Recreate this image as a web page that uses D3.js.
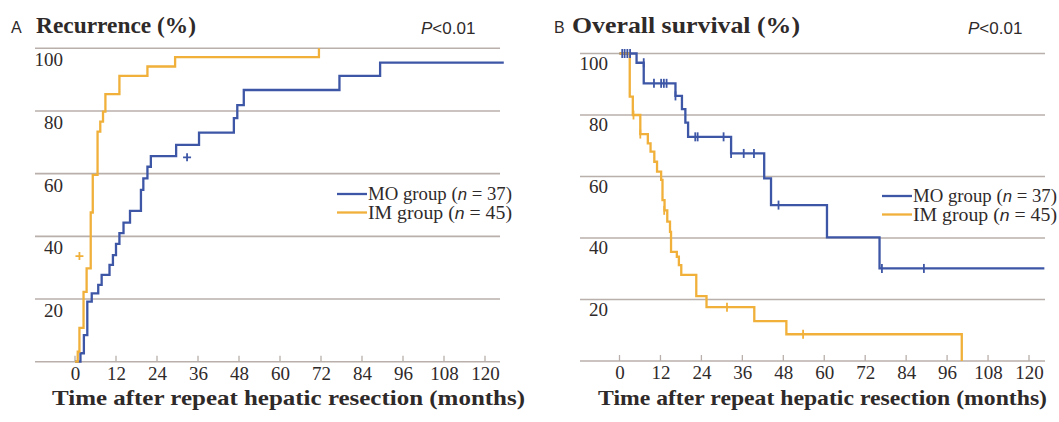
<!DOCTYPE html>
<html>
  <head>
    <meta charset="utf-8">
    <title>Recurrence and overall survival</title>
    <script src="https://cdnjs.cloudflare.com/ajax/libs/d3/7.8.5/d3.min.js"></script>
    <style>
      body { margin: 0; background: #fff; }
      text { fill: #2f2a2a; }
      .serif { font-family: "Liberation Serif", "Times New Roman", serif; }
      .sans { font-family: "Liberation Sans", Arial, sans-serif; }
    </style>
  </head>
  <body>

    <svg id="chart" width="1059" height="422"></svg>

    <script>

      // x axis ticks (months) and y labels (%)
      var monthTicks = [0, 12, 24, 36, 48, 60, 72, 84, 96, 108, 120];
      var pctTicks = [20, 40, 60, 80, 100];

      // Panel A: cumulative recurrence, steps as [month, %]
      var recMO = [[0,0],[1.6,2.7],[2.6,8.5],[3.6,19.2],[4.9,21.8],[6.8,24.5],[7.8,27.7],[10.1,30.9],
        [11.1,34],[12,37.6],[13,41],[14.2,44.4],[16.1,48.1],[19.3,54.8],[20,58.5],[21.2,62.2],
        [22.2,65.6],[29.6,69.2],[36.3,73.1],[46.5,77.7],[47.5,81.9],[49.4,86.7],[77.4,91.2],
        [89.3,95.4],[125.5,95.4]];
      var recIM = [[0,0],[0.8,3.2],[1.3,10.8],[2.5,22.3],[3.4,29.8],[4.6,47.6],[5.2,59.6],[6.6,73.4],
        [7.4,76.6],[8.2,79.8],[8.9,85.4],[13,91.2],[21.2,94.2],[29.3,97.2],[71.4,100]];
      var recMOCensor = [[32.8,65.2]];
      var recIMCensor = [[1.3,33.7]];

      // Panel B: overall survival, steps as [month, %]
      var osMO = [[0,100],[5,97],[7.1,90.3],[16.4,86.2],[18.3,81.9],[19.3,77.5],[20.1,72.9],[32.7,67.5],
        [42.4,59.4],[44.4,50.7],[60.8,40.2],[76.2,30.1],[124.5,30.1]];
      var osIM = [[0,100],[3,86],[3.9,80],[6.1,73.8],[8.3,70.8],[9.1,68.1],[10.2,64.8],[11,61.6],
        [12.2,58.9],[12.6,52.3],[13.2,49],[14,45.3],[14.8,42],[15.1,35.5],[16.8,33.9],[17.4,31.2],
        [18.1,28],[22.5,21.1],[25.5,17.5],[39.5,13],[48.9,8.7],[100.3,0]];
      var osMOCensor = [[0.8,100],[1.5,100],[2.3,100],[3.1,100],[7.1,97],[10.1,90.3],[12.2,90.3],
        [13,90.3],[13.8,90.3],[16.4,86.2],[22.2,72.9],[22.9,72.9],[30.5,72.9],[32.7,67.5],
        [36.4,67.5],[39.4,67.5],[46.6,50.7],[76.9,30.1],[89.2,30.1]];
      var osIMCensor = [[4.1,80],[6.1,73.8],[13.1,49],[31.5,17.5],[53.8,8.7]];

      var legendLabels = [["MO group (", "n", " = 37)"], ["IM group (", "n", " = 45)"]];

      var blue = "#3d56a6", orange = "#f0b03a", grid = "#b9afab";
      var svg = d3.select("#chart");

      function panel(cfg) {
        var x = d3.scaleLinear().domain([0, 120]).range([cfg.x0, cfg.x1]);
        var y = d3.scaleLinear().domain([0, 100]).range([cfg.yb, cfg.yt]);
        var g = svg.append("g");

        // gridlines with labels sitting just below them
        g.selectAll("line.grid").data(pctTicks).enter().append("line")
          .attr("x1", cfg.gl).attr("x2", cfg.gr)
          .attr("y1", function(d){ return y(d); }).attr("y2", function(d){ return y(d); })
          .attr("stroke", grid).attr("stroke-width", 1.6);
        g.selectAll("text.ylab").data(pctTicks).enter().append("text")
          .attr("class", "serif")
          .attr("x", cfg.lx).attr("y", function(d){ return y(d) + cfg.ldy; })
          .attr("text-anchor", "end").attr("font-size", 19)
          .text(function(d){ return d; });

        // x axis
        var ax = g.append("g").attr("transform", "translate(0," + cfg.yb + ")")
          .call(d3.axisBottom(x).tickValues(monthTicks).tickSize(0).tickPadding(5));
        ax.attr("font-family", null).attr("font-size", null);
        ax.select(".domain").remove();
        ax.selectAll("text").attr("class", "serif").attr("font-size", 19).attr("fill", "#2f2a2a");
        g.append("line").attr("x1", cfg.gl).attr("x2", cfg.gr)
          .attr("y1", cfg.yb).attr("y2", cfg.yb).attr("stroke", grid).attr("stroke-width", 1.6);
        g.selectAll("line.tick").data(monthTicks).enter().append("line")
          .attr("x1", function(d){ return x(d); }).attr("x2", function(d){ return x(d); })
          .attr("y1", cfg.yb).attr("y2", cfg.yb - 6).attr("stroke", grid).attr("stroke-width", 1.3);

        var line = d3.line().curve(d3.curveStepAfter)
          .x(function(d){ return x(d[0]); }).y(function(d){ return y(d[1]); });
        [[cfg.mo, blue], [cfg.im, orange]].forEach(function(s) {
          g.append("path").attr("d", line(s[0])).attr("fill", "none")
            .attr("stroke", s[1]).attr("stroke-width", 2.3);
        });

        // censor marks
        [[cfg.moC, blue], [cfg.imC, orange]].forEach(function(s) {
          g.selectAll(null).data(s[0]).enter().append("path")
            .attr("d", function(d) {
              var px = x(d[0]), py = y(d[1]);
              return cfg.plus
                ? "M" + (px - 4) + "," + py + "H" + (px + 4) + "M" + px + "," + (py - 4) + "V" + (py + 4)
                : "M" + px + "," + (py - 4.5) + "V" + (py + 4.5);
            })
            .attr("stroke", s[1]).attr("stroke-width", 1.8);
        });

        // titles
        g.append("text").attr("class", "sans").attr("x", cfg.lettx).attr("y", 33)
          .attr("font-size", 16).text(cfg.letter);
        g.append("text").attr("class", "serif").attr("x", cfg.tx).attr("y", 33)
          .attr("font-size", 23).attr("font-weight", "bold")
          .attr("textLength", cfg.tw).attr("lengthAdjust", "spacingAndGlyphs")
          .text(cfg.title);
        var p = g.append("text").attr("class", "sans").attr("x", cfg.px).attr("y", 34)
          .attr("font-size", 17);
        p.append("tspan").attr("font-style", "italic").text("P");
        p.append("tspan").text("<0.01");
        g.append("text").attr("class", "serif").attr("x", cfg.xlx).attr("y", 405)
          .attr("font-size", 22).attr("font-weight", "bold")
          .attr("textLength", cfg.xlw).attr("lengthAdjust", "spacingAndGlyphs")
          .text("Time after repeat hepatic resection (months)");

        // legend
        [blue, orange].forEach(function(c, i) {
          var ly = cfg.legy + i * 18.5;
          g.append("line").attr("x1", cfg.legx).attr("x2", cfg.legx + 30)
            .attr("y1", ly).attr("y2", ly).attr("stroke", c).attr("stroke-width", 2.3);
          var t = g.append("text").attr("class", "serif").attr("x", cfg.legx + 31).attr("y", ly + 6)
            .attr("font-size", 18).attr("textLength", 144).attr("lengthAdjust", "spacingAndGlyphs");
          t.append("tspan").text(legendLabels[i][0]);
          t.append("tspan").attr("class", "sans").attr("font-style", "italic")
            .attr("font-size", 16).text(legendLabels[i][1]);
          t.append("tspan").text(legendLabels[i][2]);
        });
      }

      panel({ x0: 75, x1: 485, yb: 361.7, yt: 48.3, gl: 35, gr: 500, lx: 63, ldy: 18,
        mo: recMO, im: recIM, moC: recMOCensor, imC: recIMCensor, plus: true,
        letter: "A", lettx: 11, tx: 36, tw: 160, title: "Recurrence (%)", px: 421, xlx: 52, xlw: 473,
        legx: 337, legy: 194 });
      panel({ x0: 619.5, x1: 1029, yb: 361, yt: 53.5, gl: 580, gr: 1045, lx: 608, ldy: 16,
        mo: osMO, im: osIM, moC: osMOCensor, imC: osIMCensor, plus: false,
        letter: "B", lettx: 554, tx: 572, tw: 228, title: "Overall survival (%)", px: 968, xlx: 598, xlw: 449,
        legx: 882, legy: 196 });

    </script>
  </body>
</html>
